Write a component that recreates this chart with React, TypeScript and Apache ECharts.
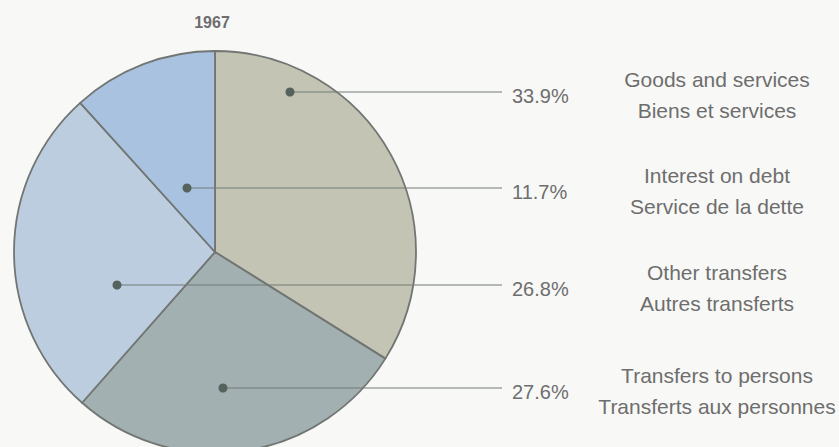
import React, { useEffect, useRef } from "react";
import * as echarts from "echarts";

const title = "1967";
const namesEn = ["Goods and services", "Transfers to persons", "Other transfers", "Interest on debt"];
const namesFr = ["Biens et services", "Transferts aux personnes", "Autres transferts", "Service de la dette"];
const shares = [33.9, 27.6, 26.8, 11.7];
const colors = ["#c3c4b3", "#a3b0b1", "#bccde0", "#a9c2e0"];

// layout (annotation positions)
const CX = 215;
const CY = 252;
const R = 201;
const dotOffsets = [[75, -160], [8, 136], [-98, 33], [-28, -64]];
const lineEndX = 502;
const pctX = 512;
const nameX = 717;

export default function App() {
  const ref = useRef<HTMLDivElement>(null);
  useEffect(() => {
    if (!ref.current) return;
    const chart = echarts.init(ref.current, null, { renderer: "svg" });
    const font = "'Liberation Sans', Arial, Helvetica, sans-serif";
    const textColor = "#6e6e6e";
    const graphics: any[] = [];
    shares.forEach((v, i) => {
      const dx = CX + dotOffsets[i][0];
      const dy = CY + dotOffsets[i][1];
      graphics.push({
        type: "line",
        z: 100,
        shape: { x1: dx, y1: dy, x2: lineEndX, y2: dy },
        style: { stroke: "#737a76", lineWidth: 1.2 },
      });
      graphics.push({
        type: "circle",
        z: 101,
        shape: { cx: dx, cy: dy, r: 4.5 },
        style: { fill: "#56625c" },
      });
      graphics.push({
        type: "text",
        z: 101,
        x: pctX,
        y: dy + 4,
        style: {
          text: v.toFixed(1) + "%",
          font: `20px ${font}`,
          fill: textColor,
          textAlign: "left",
          textVerticalAlign: "middle",
        },
      });
      graphics.push({
        type: "text",
        z: 101,
        x: nameX,
        y: dy - 13,
        style: {
          text: namesEn[i],
          font: `21px ${font}`,
          fill: textColor,
          textAlign: "center",
          textVerticalAlign: "middle",
        },
      });
      graphics.push({
        type: "text",
        z: 101,
        x: nameX,
        y: dy + 18,
        style: {
          text: namesFr[i],
          font: `21px ${font}`,
          fill: textColor,
          textAlign: "center",
          textVerticalAlign: "middle",
        },
      });
    });
    graphics.push({
      type: "text",
      z: 101,
      x: CX - 3,
      y: 22,
      style: {
        text: title,
        font: `bold 16px ${font}`,
        fill: textColor,
        textAlign: "center",
        textVerticalAlign: "middle",
      },
    });
    chart.setOption({
      animation: false,
      backgroundColor: "#f8f8f6",
      series: [
        {
          type: "pie",
          center: [CX, CY],
          radius: [0, R],
          startAngle: 90,
          clockwise: true,
          label: { show: false },
          labelLine: { show: false },
          emphasis: { disabled: true },
          itemStyle: { borderColor: "#727673", borderWidth: 1.8 },
          data: shares.map((v, i) => ({
            name: namesEn[i],
            value: v,
            itemStyle: { color: colors[i] },
          })),
        },
      ],
      graphic: graphics,
    });
    return () => chart.dispose();
  }, []);
  return (
    <div
      ref={ref}
      style={{ position: "fixed", left: 0, top: 0, width: 839, height: 447 }}
    />
  );
}
